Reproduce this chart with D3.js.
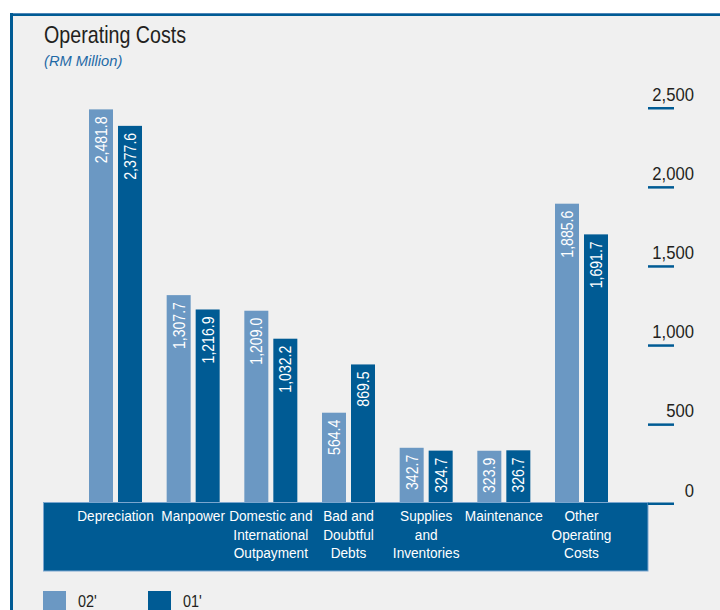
<!DOCTYPE html>
<html>
<head>
<meta charset="utf-8">
<script src="https://cdn.jsdelivr.net/npm/d3@7"></script>
<style>
  html, body { margin: 0; padding: 0; background: #ffffff; }
  svg { display: block; font-family: "Liberation Sans", Arial, sans-serif; }
</style>
</head>
<body>
<script>
// Operating costs by category, RM million
const categories = [
  ["Depreciation"],
  ["Manpower"],
  ["Domestic and", "International", "Outpayment"],
  ["Bad and", "Doubtful", "Debts"],
  ["Supplies", "and", "Inventories"],
  ["Maintenance"],
  ["Other", "Operating", "Costs"]
];
const series = ["02'", "01'"];
const values02 = [2481.8, 1307.7, 1209.0, 564.4, 342.7, 323.9, 1885.6];
const values01 = [2377.6, 1216.9, 1032.2, 869.5, 324.7, 326.7, 1691.7];
const yTicks = [0, 500, 1000, 1500, 2000, 2500];

const W = 720, H = 610;
const light = "#6b98c3", dark = "#005b94";
const colors = { "02'": light, "01'": dark };

const svg = d3.select("body").append("svg")
  .attr("width", W).attr("height", H);

// condensed-looking text: a regular face squeezed horizontally
function label(parent, x, y, str, size, sx, opts = {}) {
  return parent.append("text")
    .attr("transform", `translate(${x},${y})${opts.rotate ? " rotate(" + opts.rotate + ")" : ""} scale(${sx},1)`)
    .attr("text-anchor", opts.anchor || "start")
    .attr("font-size", size)
    .attr("font-style", opts.italic ? "italic" : null)
    .attr("fill", opts.fill || "#231f20")
    .text(str);
}

// panel frame
svg.append("rect").attr("x", 0).attr("y", 0).attr("width", W).attr("height", H).attr("fill", "#ffffff");
svg.append("rect").attr("x", 11).attr("y", 14).attr("width", W - 11).attr("height", H - 14).attr("fill", "#f0f0f0");
svg.append("rect").attr("x", 10).attr("y", 13).attr("width", W - 10).attr("height", 3).attr("fill", dark);
svg.append("rect").attr("x", 10).attr("y", 13).attr("width", W - 10).attr("height", 1).attr("fill", "#4f87b8");
svg.append("rect").attr("x", 10).attr("y", 13).attr("width", 3).attr("height", H - 13).attr("fill", dark);

// titles
label(svg, 44, 43, "Operating Costs", 24, 0.82);
label(svg, 44, 66, "(RM Million)", 15, 0.98, { italic: true, fill: "#1f6aa6" });

// scales
const catKeys = categories.map(c => c.join(" "));
const x0 = d3.scaleBand().domain(catKeys).range([89, 608]).paddingInner(0.3176).paddingOuter(0);
const x1 = d3.scaleBand().domain(series).range([0, x0.bandwidth()]).paddingInner(5 / 29).paddingOuter(0);
const y = d3.scaleLinear().domain([0, 2500]).range([502, 106.5]);

const rows = catKeys.map((k, i) => ({ key: k, lines: categories[i], vals: [
  { s: series[0], v: values02[i] }, { s: series[1], v: values01[i] }
] }));

// bars
const g = svg.append("g");
const groups = g.selectAll("g.grp").data(rows).join("g")
  .attr("class", "grp")
  .attr("transform", d => `translate(${x0(d.key)},0)`);

groups.selectAll("rect").data(d => d.vals).join("rect")
  .attr("x", d => x1(d.s))
  .attr("y", d => y(d.v))
  .attr("width", x1.bandwidth())
  .attr("height", d => y(0) - y(d.v))
  .attr("fill", d => colors[d.s]);

groups.each(function(d) {
  const grp = d3.select(this);
  d.vals.forEach(b => {
    label(grp, x1(b.s) + x1.bandwidth() / 2 + 6, y(b.v) + 7, d3.format(",.1f")(b.v), 16, 0.88,
      { rotate: -90, anchor: "end", fill: "#ffffff" });
  });
});

// category band
svg.append("rect").attr("x", 43.5).attr("y", 502.5).attr("width", 604.5).attr("height", 68.5)
  .attr("fill", dark).attr("stroke", "#7aa6cf").attr("stroke-width", 1);

const labels = svg.append("g");
rows.forEach(d => {
  const cx = x0(d.key) + x0.bandwidth() / 2;
  d.lines.forEach((ln, j) => {
    label(labels, cx, 521 + j * 18.5, ln, 15.5, 0.88, { anchor: "middle", fill: "#ffffff" });
  });
});

// value axis on the right
const axis = svg.append("g");
yTicks.forEach(v => {
  axis.append("rect").attr("x", 648).attr("y", y(v) + 0.5).attr("width", 26).attr("height", 2.5).attr("fill", dark);
  label(axis, 694, y(v) - 5.5, d3.format(",")(v), 18.5, 0.9, { anchor: "end" });
});

// legend
const leg = svg.append("g");
series.forEach((s, i) => {
  const lx = 43 + i * 105;
  leg.append("rect").attr("x", lx).attr("y", 591).attr("width", 23).attr("height", 22).attr("fill", colors[s]);
  label(leg, lx + 35, 607, s, 16, 0.9);
});
</script>
</body>
</html>
